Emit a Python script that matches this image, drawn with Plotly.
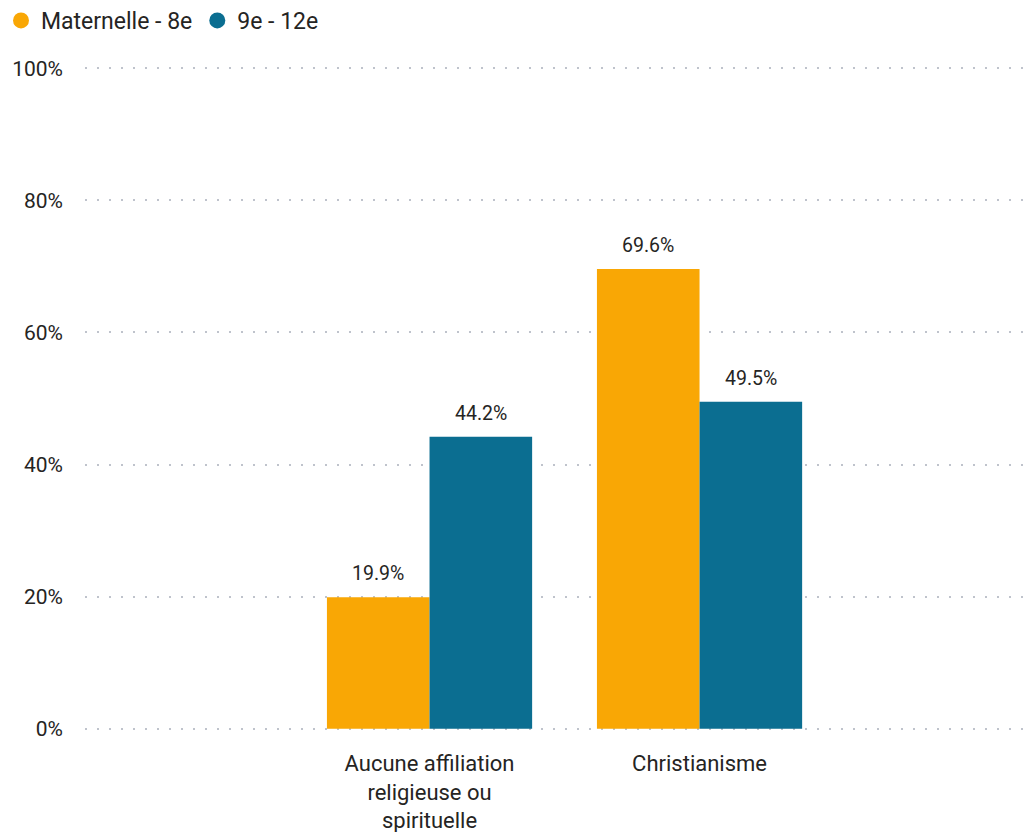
import plotly.graph_objects as go

categories = ["Aucune affiliation<br>religieuse ou<br>spirituelle", "Christianisme"]
series_names = ["Maternelle - 8e", "9e - 12e"]
maternelle = [19.9, 69.6]
secondaire = [44.2, 49.5]
colors = ["#F9A705", "#0B6E91"]
y_ticks = [0, 20, 40, 60, 80, 100]
y_tick_labels = ["0%", "20%", "40%", "60%", "80%", "100%"]

FONT = "Roboto"
TXT = "#252423"

W, H = 1033, 832
L, R = 85, 0
pad = 0.5 * 661 / 100
T, B = int(round(68 - pad)), int(round(103 - pad))
pw = W - L - R
ph = H - T - B
xrange_ = [-1.276, 2.235]
BARGAP = 0.24
unit_px = pw / (xrange_[1] - xrange_[0])
bar_px = unit_px * (1 - BARGAP) / 2

fig = go.Figure()
for name, vals, col in zip(series_names, [maternelle, secondaire], colors):
    fig.add_trace(go.Bar(
        x=categories, y=vals, name=name, marker=dict(color=col, line=dict(width=0)),
        showlegend=False, hoverinfo="skip",
    ))
for name, col in zip(series_names, colors):
    fig.add_trace(go.Scatter(
        x=[None], y=[None], mode="markers", name=name,
        marker=dict(symbol="circle", size=21, color=col),
    ))

annotations = []
for si, vals in enumerate([maternelle, secondaire]):
    for cat, v in zip(categories, vals):
        annotations.append(dict(
            x=cat, y=v, xref="x", yref="y", text=f"{v:.1f}%", showarrow=False,
            xanchor="center", yanchor="bottom", yshift=10,
            xshift=(si - 0.5) * bar_px,
            font=dict(family=FONT, size=19.5, color=TXT),
        ))

fig.update_layout(
    width=W, height=H,
    margin=dict(l=L, r=R, t=T, b=B, autoexpand=False),
    paper_bgcolor="white", plot_bgcolor="white",
    barmode="group", bargap=BARGAP, bargroupgap=0,
    font=dict(family=FONT, size=19, color=TXT),
    annotations=annotations,
    legend=dict(orientation="h", x=-(L - 1) / pw, xanchor="left",
                y=1 + (T + 1) / ph, yanchor="top",
                font=dict(family=FONT, size=23, color=TXT),
                itemsizing="trace", tracegroupgap=0, itemwidth=30,
                bgcolor="rgba(0,0,0,0)"),
    xaxis=dict(type="category", range=xrange_, showgrid=False, automargin=False,
               showline=False, zeroline=False, ticks="", ticklabelstandoff=16,
               tickfont=dict(family=FONT, size=22, color=TXT)),
    yaxis=dict(range=[-0.5, 100.5], tickvals=y_ticks, ticktext=y_tick_labels,
               automargin=False,
               showgrid=True, gridcolor="#BFC3CC", griddash="2px,10px", gridwidth=1.5,
               zeroline=False, showline=False, ticks="", ticklabelstandoff=21,
               tickfont=dict(family=FONT, size=21, color=TXT)),
)

fig.write_html("out.html", config={"displayModeBar": False},
               post_script="document.body.style.margin='0';document.body.style.padding='0';")
